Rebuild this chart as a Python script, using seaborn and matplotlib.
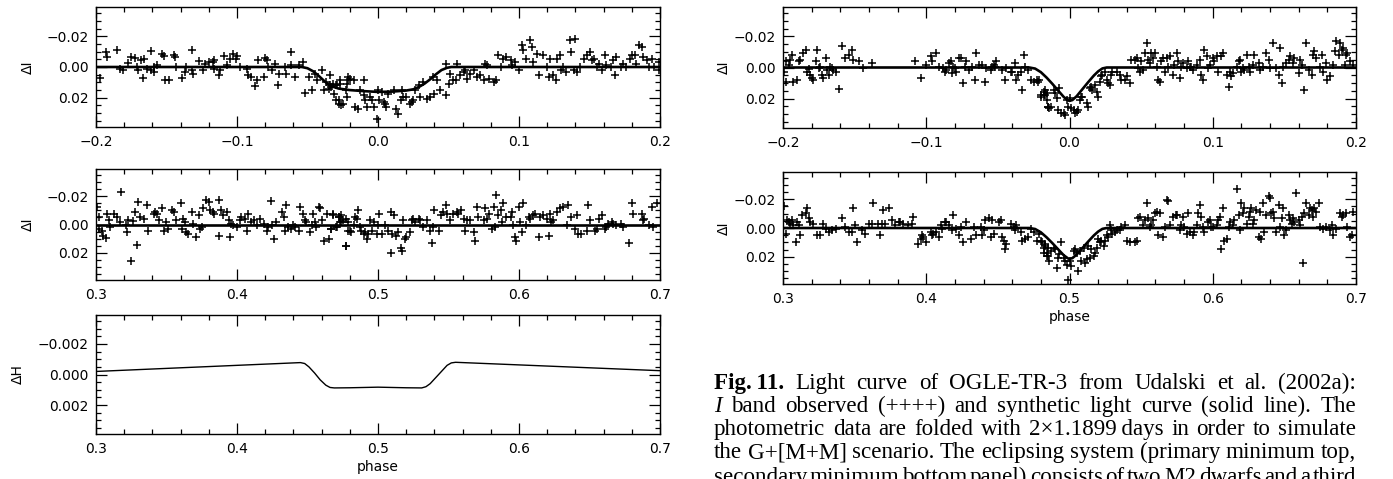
import numpy as np
import matplotlib
matplotlib.use("Agg")
import matplotlib.pyplot as plt
import seaborn as sns
from matplotlib.ticker import MultipleLocator

# ---------------- data ----------------
# Left column, top panel: phase -0.2..0.2, Delta I (observed)
lp1_phase = [
    -0.197,-0.193,-0.192,-0.185,-0.183,-0.181,-0.177,-0.175,-0.172,-0.171,
    -0.170,-0.168,-0.166,-0.167,-0.164,-0.161,-0.161,-0.159,-0.159,-0.157,
    -0.153,-0.152,-0.151,-0.148,-0.145,-0.144,-0.143,-0.139,-0.137,-0.136,
    -0.132,-0.132,-0.131,-0.127,-0.124,-0.123,-0.120,-0.117,-0.116,-0.116,
    -0.113,-0.112,-0.109,-0.107,-0.105,-0.103,-0.101,-0.100,-0.098,-0.093,
    -0.092,-0.090,-0.087,-0.086,-0.085,-0.081,-0.080,-0.079,-0.078,-0.075,
    -0.073,-0.071,-0.070,-0.066,-0.065,-0.062,-0.062,-0.059,-0.056,-0.053,
    -0.052,-0.049,-0.047,-0.045,-0.043,-0.040,-0.038,-0.037,-0.035,-0.034,
    -0.032,-0.030,-0.029,-0.028,-0.027,-0.026,-0.023,-0.022,-0.021,
    -0.034,-0.033,-0.031,-0.030,-0.028,-0.027,-0.025,-0.022,-0.021,-0.020,
    -0.017,-0.016,-0.014,-0.013,-0.010,-0.010,-0.009,-0.008,-0.006,-0.004,
    -0.003,-0.001,0.000,0.001,0.003,0.004,0.005,0.006,0.007,0.011,
    0.013,0.014,0.016,0.017,0.018,0.020,0.023,0.024,0.025,0.026,
    0.029,0.030,0.032,0.035,0.037,0.039,0.040,0.042,0.044,0.048,
    0.048,0.050,0.051,0.053,0.055,0.056,0.058,0.061,0.062,0.063,
    0.065,0.068,0.070,0.072,0.075,0.076,0.077,0.079,0.082,0.084,
    0.085,0.087,0.089,0.091,0.094,0.095,0.097,0.100,0.102,0.103,
    0.105,0.108,0.109,0.110,0.113,0.114,0.117,0.120,0.121,0.122,
    0.124,0.126,0.127,0.129,0.130,0.131,0.133,0.136,0.137,0.139,
    0.140,0.141,0.143,0.146,0.148,0.150,0.152,0.153,0.155,0.157,
    0.159,0.161,0.162,0.165,0.167,0.168,0.169,0.172,0.174,0.176,
    0.179,0.180,0.182,0.183,0.185,0.187,0.188,0.191,0.192,0.194,
    0.196,0.199,0.1995,
]
lp1_dI = [
    0.0070,-0.0098,-0.0065,-0.0109,0.0011,0.0022,-0.0026,-0.0065,-0.0061,0.0000,
    0.0022,-0.0043,-0.0054,0.0070,0.0011,-0.0104,0.0022,0.0000,0.0033,-0.0011,
    -0.0083,-0.0070,0.0087,0.0087,-0.0076,-0.0065,0.0000,0.0070,0.0033,0.0000,
    -0.0113,0.0022,0.0048,-0.0037,0.0022,-0.0022,-0.0033,-0.0033,-0.0043,0.0011,
    0.0054,0.0022,-0.0070,-0.0011,-0.0054,-0.0083,-0.0054,-0.0070,0.0000,0.0011,
    0.0054,0.0065,0.0126,0.0087,-0.0043,0.0065,-0.0061,-0.0048,0.0000,0.0022,
    -0.0022,0.0120,0.0043,0.0000,0.0048,-0.0098,-0.0011,0.0065,-0.0011,-0.0033,
    0.0170,0.0065,0.0152,0.0048,0.0087,0.0022,0.0148,0.0098,0.0141,0.0120,
    0.0109,0.0217,0.0120,0.0239,0.0109,0.0250,0.0152,0.0196,0.0087,
    0.0054,0.0130,0.0174,0.0120,0.0217,0.0087,0.0239,0.0109,0.0065,0.0076,
    0.0087,0.0261,0.0272,0.0152,0.0087,0.0185,0.0217,0.0261,0.0196,0.0217,
    0.0261,0.0337,0.0152,0.0217,0.0163,0.0228,0.0239,0.0261,0.0174,0.0152,
    0.0272,0.0304,0.0217,0.0152,0.0196,0.0196,0.0239,0.0228,0.0217,0.0152,
    0.0120,0.0196,0.0098,0.0207,0.0196,0.0065,0.0174,0.0087,0.0152,0.0185,
    -0.0022,0.0109,0.0043,0.0087,0.0087,-0.0022,0.0054,0.0033,0.0022,0.0076,
    0.0043,0.0022,0.0065,0.0054,0.0087,-0.0022,-0.0011,0.0076,0.0098,0.0087,
    -0.0076,0.0000,-0.0054,-0.0065,-0.0043,-0.0011,-0.0033,0.0022,-0.0141,-0.0109,
    -0.0054,-0.0174,-0.0130,-0.0033,-0.0087,0.0054,-0.0076,0.0000,0.0065,-0.0054,
    0.0054,0.0087,-0.0054,-0.0076,0.0022,0.0000,0.0033,-0.0174,-0.0098,0.0022,
    -0.0185,0.0033,0.0000,-0.0054,-0.0076,-0.0098,-0.0043,-0.0054,0.0000,-0.0022,
    0.0022,-0.0076,-0.0011,0.0000,-0.0043,0.0054,-0.0065,0.0000,-0.0022,0.0000,
    -0.0054,-0.0076,-0.0076,-0.0022,-0.0141,-0.0130,-0.0065,-0.0043,0.0000,-0.0054,
    0.0000,-0.0033,0.0022,
]
lp1_model_phase = [-0.2,-0.054,-0.050,-0.046,-0.042,-0.038,-0.034,-0.028,-0.020,-0.010,
                   0.0,0.010,0.020,0.025,0.029,0.033,0.037,0.041,0.045,0.049,0.052,0.2]
lp1_model_dI = [0,0,0.0008,0.0028,0.0058,0.0092,0.0122,0.0140,0.0150,0.0157,
                0.0162,0.0160,0.0153,0.0145,0.0130,0.0108,0.0080,0.0048,0.0020,0.0005,0,0]

# Left column, middle panel: phase 0.3..0.7
lp2_phase = [
    0.301,0.302,0.302,0.304,0.305,0.307,0.308,0.309,0.310,0.313,
    0.315,0.317,0.318,0.321,0.322,0.323,0.325,0.326,0.328,0.329,
    0.330,0.331,0.334,0.336,0.337,0.341,0.342,0.343,0.345,0.347,
    0.348,0.350,0.351,0.354,0.355,0.357,0.360,0.361,0.362,0.363,
    0.364,0.365,0.368,0.369,0.371,0.373,0.374,0.375,0.376,0.378,
    0.380,0.381,0.383,0.384,0.387,0.387,0.389,0.390,0.393,0.394,
    0.395,0.396,0.397,0.400,0.402,0.403,0.406,0.407,0.408,0.410,
    0.412,0.414,0.416,0.419,0.421,0.422,0.424,0.425,0.426,0.428,
    0.432,0.433,0.434,0.435,0.436,0.438,0.440,0.441,0.444,0.445,
    0.447,0.448,0.449,0.452,0.453,0.454,0.455,0.456,0.458,0.459,
    0.460,0.462,0.464,0.465,0.467,0.468,0.471,0.472,0.474,0.477,
    0.479,
    0.467,0.468,0.470,0.472,0.473,0.474,0.475,0.477,0.477,0.479,
    0.480,0.481,0.483,0.484,0.485,0.486,0.487,0.488,0.490,0.491,
    0.492,0.493,0.494,0.496,0.497,0.499,0.500,0.501,0.503,0.505,
    0.507,0.509,0.509,0.510,0.511,0.513,0.514,0.516,0.517,0.518,
    0.519,0.520,0.523,0.524,0.525,0.526,0.529,0.530,0.532,0.535,
    0.537,0.538,0.539,0.540,0.543,0.545,0.546,0.548,0.549,0.551,
    0.553,0.556,0.557,0.559,0.561,0.562,0.563,0.565,0.568,0.569,
    0.570,0.571,0.575,0.576,0.577,0.579,0.581,0.582,0.583,0.584,
    0.585,0.587,0.588,0.589,0.591,0.594,0.595,0.596,0.597,0.598,
    0.600,0.601,0.602,0.603,0.605,0.607,0.608,0.610,0.611,0.614,
    0.615,0.617,0.620,0.621,0.622,0.623,0.624,0.627,0.629,0.631,
    0.634,0.635,0.637,0.640,0.641,0.642,0.644,0.648,0.649,0.650,
    0.654,0.655,0.657,0.659,0.661,0.662,0.663,0.666,0.667,0.669,
    0.672,0.674,0.678,0.680,0.681,0.687,0.688,0.689,0.692,0.694,
    0.695,0.698,
]
lp2_dI = [
    -0.0120,-0.0053,0.0031,0.0043,0.0079,0.0096,-0.0072,-0.0029,0.0019,-0.0077,
    -0.0053,-0.0017,-0.0225,0.0007,0.0055,-0.0029,0.0259,-0.0022,-0.0089,0.0144,
    -0.0160,-0.0053,-0.0041,-0.0137,0.0043,-0.0077,-0.0089,-0.0077,-0.0029,-0.0113,
    0.0043,-0.0017,0.0031,-0.0101,-0.0089,-0.0029,-0.0149,0.0031,-0.0041,-0.0017,
    0.0055,0.0067,-0.0089,-0.0005,0.0091,-0.0065,0.0031,0.0019,-0.0113,-0.0172,
    -0.0160,-0.0101,-0.0089,-0.0077,-0.0172,0.0079,-0.0101,-0.0065,-0.0089,-0.0029,
    0.0091,-0.0005,0.0007,0.0019,-0.0029,-0.0053,-0.0041,0.0043,-0.0077,-0.0017,
    -0.0029,0.0007,-0.0041,-0.0005,0.0043,0.0019,-0.0168,0.0007,0.0103,-0.0017,
    -0.0089,-0.0053,0.0043,-0.0137,0.0019,0.0031,0.0007,0.0019,0.0043,-0.0125,
    -0.0077,-0.0029,-0.0017,0.0055,0.0007,-0.0077,-0.0017,0.0019,-0.0125,-0.0113,
    -0.0029,0.0115,-0.0077,0.0103,0.0031,-0.0077,0.0019,-0.0053,-0.0017,0.0151,
    0.0043,
    0.0031,-0.0065,0.0019,-0.0053,-0.0017,-0.0065,-0.0029,-0.0041,0.0151,-0.0017,
    0.0043,0.0055,0.0007,-0.0053,-0.0041,-0.0101,0.0019,0.0043,0.0067,0.0055,
    0.0103,0.0067,-0.0029,0.0043,-0.0017,0.0067,0.0007,-0.0077,0.0067,0.0007,
    0.0043,-0.0089,0.0199,0.0067,-0.0065,0.0079,0.0055,0.0163,0.0187,-0.0029,
    0.0103,0.0091,0.0055,-0.0029,-0.0041,-0.0017,-0.0041,-0.0029,0.0019,-0.0029,
    0.0043,0.0127,0.0019,-0.0101,0.0043,-0.0065,-0.0089,-0.0137,-0.0077,-0.0029,
    -0.0077,-0.0089,-0.0077,-0.0101,-0.0041,0.0043,-0.0029,-0.0029,0.0055,0.0115,
    -0.0125,-0.0053,-0.0029,-0.0113,-0.0041,-0.0077,0.0031,-0.0125,0.0019,-0.0208,
    -0.0065,-0.0101,-0.0017,-0.0149,-0.0053,-0.0053,-0.0089,0.0007,0.0091,0.0115,
    -0.0125,-0.0017,0.0055,-0.0149,0.0007,-0.0053,-0.0041,-0.0065,-0.0077,0.0091,
    -0.0053,-0.0065,-0.0041,0.0079,-0.0077,-0.0017,-0.0029,-0.0089,-0.0113,-0.0125,
    0.0007,-0.0137,-0.0053,0.0031,-0.0065,0.0067,0.0067,0.0043,-0.0137,-0.0029,
    0.0043,0.0031,-0.0041,-0.0065,0.0031,0.0019,-0.0005,-0.0017,-0.0005,0.0007,
    -0.0005,0.0019,0.0127,-0.0149,-0.0077,-0.0077,-0.0029,-0.0041,0.0007,-0.0125,
    0.0019,-0.0149,
]
lp2_model_phase = [0.3, 0.7]
lp2_model_dI = [0.0, 0.0]

# Left column, bottom panel: synthetic Delta H curve
lp3_phase = [0.3,0.445,0.448,0.451,0.455,0.459,0.463,0.466,0.469,0.48,0.49,0.5,
             0.51,0.52,0.531,0.534,0.537,0.541,0.545,0.549,0.552,0.555,0.7]
lp3_dH = [-0.00020,-0.00078,-0.00072,-0.00050,-0.00010,0.00035,0.00070,0.00085,0.00088,
          0.00087,0.00085,0.00083,0.00085,0.00087,0.00088,0.00080,0.00060,0.00020,
          -0.00020,-0.00060,-0.00076,-0.00080,-0.00025]

# Right column, top panel
rp1_phase = [
    -0.1995,-0.198,-0.198,-0.196,-0.195,-0.194,-0.193,-0.190,-0.189,-0.188,
    -0.186,-0.184,-0.183,-0.182,-0.181,-0.180,-0.179,-0.177,-0.176,-0.175,
    -0.174,-0.173,-0.172,-0.170,-0.169,-0.168,-0.167,-0.166,-0.165,-0.163,
    -0.161,-0.159,-0.157,-0.154,-0.152,-0.151,-0.147,-0.144,-0.138,-0.108,
    -0.104,-0.100,-0.097,-0.096,-0.093,-0.091,-0.088,-0.087,-0.086,-0.084,
    -0.083,-0.082,-0.081,-0.080,-0.079,-0.077,-0.076,-0.074,-0.073,-0.072,
    -0.070,-0.068,-0.066,-0.065,-0.063,-0.061,-0.059,-0.058,-0.055,-0.054,
    -0.053,-0.052,-0.051,-0.047,-0.045,-0.044,-0.041,-0.040,-0.038,-0.037,
    -0.036,-0.034,-0.033,-0.032,-0.031,-0.029,-0.027,-0.025,-0.023,-0.022,
    -0.020,-0.018,-0.017,-0.016,-0.015,
    -0.021,-0.020,-0.018,-0.017,-0.016,-0.015,-0.014,-0.013,-0.011,-0.010,
    -0.009,-0.008,-0.007,-0.006,-0.004,-0.003,-0.002,-0.001,0.000,0.001,
    0.003,0.004,0.005,0.006,0.007,0.008,0.009,0.012,0.013,0.014,
    0.015,0.016,0.018,0.019,0.020,0.021,0.022,0.023,0.025,0.026,
    0.027,0.028,0.029,0.030,0.033,0.035,0.036,0.039,0.040,0.042,
    0.043,0.046,0.047,0.048,0.049,0.050,0.051,0.053,0.054,0.055,
    0.056,0.057,0.058,0.060,0.061,0.062,0.063,0.064,0.065,0.067,
    0.068,0.069,0.070,0.072,0.073,0.075,0.076,0.077,0.078,0.079,
    0.082,0.083,0.084,0.085,0.086,0.089,0.091,0.092,0.093,0.094,
    0.096,0.097,0.098,0.100,0.101,0.103,0.104,0.106,0.107,0.110,
    0.111,0.112,0.113,0.114,0.117,0.118,0.119,0.120,0.121,0.122,
    0.124,0.125,0.126,0.128,0.129,0.132,0.133,0.135,0.137,0.139,
    0.140,0.142,0.144,0.146,0.147,0.148,0.149,0.151,0.153,0.154,
    0.156,0.157,0.160,0.161,0.162,0.164,0.165,0.167,0.169,0.170,
    0.171,0.172,0.175,0.176,0.177,0.179,0.180,0.182,0.184,0.185,
    0.186,0.188,0.189,0.190,0.191,0.192,0.193,0.194,0.196,0.198,
]
rp1_dI = [
    0.0026,0.0091,-0.0039,-0.0017,-0.0050,-0.0082,0.0091,0.0080,-0.0039,-0.0050,
    -0.0093,-0.0115,0.0026,0.0011,0.0048,0.0069,0.0080,-0.0039,-0.0115,0.0004,
    -0.0006,0.0048,0.0069,-0.0061,0.0015,0.0048,-0.0006,0.0004,0.0015,0.0026,
    0.0141,-0.0136,-0.0061,-0.0082,-0.0115,-0.0050,-0.0039,0.0004,-0.0028,-0.0039,
    0.0069,-0.0017,-0.0071,-0.0039,-0.0093,-0.0006,0.0004,0.0026,0.0015,-0.0028,
    -0.0039,0.0037,-0.0006,0.0004,0.0026,-0.0061,-0.0061,0.0102,-0.0006,-0.0039,
    0.0015,-0.0006,0.0080,-0.0093,-0.0017,-0.0017,0.0091,0.0004,0.0015,-0.0006,
    -0.0017,-0.0006,-0.0039,0.0015,0.0080,0.0004,0.0026,0.0026,-0.0028,0.0080,
    0.0048,0.0026,0.0145,-0.0082,-0.0006,0.0015,0.0080,0.0091,0.0080,0.0091,
    0.0188,0.0177,0.0145,0.0166,0.0253,
    0.0080,0.0177,0.0156,0.0177,0.0210,0.0253,0.0264,0.0253,0.0145,0.0166,
    0.0199,0.0275,0.0134,0.0296,0.0296,0.0307,0.0210,0.0253,0.0199,0.0264,
    0.0275,0.0296,0.0285,0.0275,0.0210,0.0188,0.0188,0.0231,0.0253,0.0134,
    0.0123,0.0145,0.0112,0.0156,0.0188,0.0091,0.0058,0.0048,0.0026,0.0080,
    0.0102,0.0112,0.0048,0.0026,0.0026,0.0048,0.0080,0.0080,0.0058,0.0102,
    -0.0050,-0.0050,-0.0061,0.0004,0.0026,-0.0039,0.0015,-0.0093,-0.0158,-0.0050,
    -0.0028,-0.0093,-0.0061,-0.0093,-0.0006,0.0080,0.0091,-0.0039,-0.0061,0.0026,
    -0.0061,-0.0006,-0.0071,0.0048,-0.0017,-0.0093,-0.0039,0.0069,-0.0006,-0.0028,
    0.0004,-0.0039,-0.0006,-0.0006,0.0015,-0.0017,-0.0050,0.0048,0.0080,-0.0115,
    -0.0071,0.0004,-0.0017,-0.0061,-0.0039,-0.0071,0.0026,-0.0071,-0.0093,0.0048,
    0.0123,0.0026,0.0058,0.0037,-0.0006,-0.0039,-0.0050,0.0026,0.0004,0.0015,
    -0.0082,-0.0006,0.0026,-0.0017,-0.0082,-0.0028,0.0015,-0.0006,-0.0093,-0.0050,
    0.0004,-0.0158,0.0004,0.0048,-0.0125,0.0102,-0.0006,-0.0028,-0.0050,-0.0071,
    -0.0028,-0.0061,0.0037,-0.0050,-0.0017,0.0145,-0.0158,0.0015,0.0048,-0.0082,
    -0.0104,-0.0061,-0.0006,-0.0082,0.0026,-0.0028,0.0080,0.0058,-0.0017,-0.0104,
    -0.0169,-0.0082,-0.0158,-0.0115,-0.0125,-0.0017,-0.0082,-0.0093,-0.0039,-0.0017,
]
rp1_model_phase = [-0.2,-0.028,-0.024,-0.020,-0.016,-0.012,-0.008,-0.004,-0.001,0.0,
                   0.002,0.005,0.009,0.013,0.017,0.020,0.023,0.026,0.2]
rp1_model_dI = [0,0,0.0007,0.0030,0.0065,0.0105,0.0148,0.0190,0.0212,0.0215,
                0.0210,0.0185,0.0140,0.0095,0.0052,0.0025,0.0006,0,0]

# Right column, bottom panel
rp2_phase = [
    0.301,0.302,0.303,0.304,0.305,0.306,0.307,0.309,0.310,0.311,
    0.312,0.313,0.316,0.317,0.318,0.319,0.321,0.324,0.326,0.328,
    0.330,0.332,0.334,0.337,0.341,0.343,0.346,0.348,0.349,0.350,
    0.352,0.355,0.357,0.360,0.362,0.363,0.366,0.368,0.369,0.370,
    0.371,0.374,0.376,0.378,0.381,0.382,0.384,0.387,0.390,0.391,
    0.394,0.396,0.397,0.398,0.400,0.403,0.404,0.405,0.407,0.409,
    0.410,0.411,0.413,0.414,0.416,0.418,0.419,0.421,0.423,0.424,
    0.426,0.428,0.431,0.433,0.435,0.438,0.439,0.440,0.441,0.444,
    0.445,0.446,0.447,0.451,0.452,0.453,0.454,0.455,0.456,0.459,
    0.461,0.462,0.463,0.466,0.467,0.469,0.471,0.473,0.475,0.477,
    0.481,0.482,0.483,0.484,0.485,
    0.479,0.480,0.482,0.483,0.484,0.485,0.486,0.487,0.489,0.490,
    0.491,0.492,0.493,0.494,0.496,0.497,0.498,0.499,0.500,0.501,
    0.503,0.504,0.505,0.506,0.507,0.508,0.510,0.511,0.512,0.513,
    0.514,0.515,0.517,0.518,0.519,0.520,0.521,0.522,0.524,0.525,
    0.526,0.527,0.528,0.529,0.530,0.532,0.533,0.535,0.536,0.539,
    0.540,0.542,0.546,0.547,0.548,0.549,0.551,0.553,0.554,0.555,
    0.556,0.557,0.558,0.560,0.561,0.562,0.563,0.565,0.567,0.568,
    0.569,0.570,0.572,0.574,0.575,0.577,0.578,0.579,0.580,0.582,
    0.583,0.584,0.586,0.587,0.589,0.590,0.591,0.592,0.593,0.594,
    0.597,0.598,0.599,0.600,0.603,0.604,0.605,0.606,0.607,0.608,
    0.610,0.611,0.612,0.614,0.615,0.617,0.618,0.619,0.620,0.621,
    0.622,0.624,0.625,0.626,0.627,0.628,0.629,0.630,0.632,0.633,
    0.634,0.635,0.636,0.637,0.639,0.640,0.641,0.642,0.643,0.644,
    0.646,0.647,0.648,0.649,0.650,0.651,0.653,0.654,0.655,0.656,
    0.657,0.658,0.660,0.661,0.662,0.663,0.664,0.665,0.667,0.668,
    0.669,0.670,0.671,0.672,0.674,0.675,0.677,0.679,0.682,0.683,
    0.684,0.686,0.689,0.690,0.691,0.693,0.694,0.696,0.697,0.698,
]
rp2_dI = [
    -0.0150,0.0040,-0.0055,-0.0043,-0.0031,-0.0055,-0.0019,0.0100,-0.0043,-0.0019,
    0.0052,-0.0090,-0.0102,-0.0138,-0.0067,-0.0043,-0.0031,0.0052,0.0052,-0.0031,
    0.0005,0.0029,0.0017,0.0005,-0.0067,-0.0007,0.0029,0.0029,-0.0138,-0.0019,
    0.0100,0.0017,0.0040,-0.0031,-0.0031,-0.0174,-0.0031,0.0052,-0.0031,-0.0126,
    -0.0031,-0.0138,-0.0055,-0.0019,-0.0043,-0.0043,-0.0031,-0.0019,-0.0031,-0.0079,
    0.0112,0.0076,0.0052,0.0064,0.0100,0.0029,0.0052,0.0040,0.0029,0.0064,
    -0.0019,0.0005,-0.0043,-0.0043,-0.0019,0.0017,-0.0090,0.0005,0.0052,-0.0007,
    0.0100,-0.0043,0.0076,-0.0007,0.0052,-0.0007,0.0052,0.0017,-0.0055,-0.0067,
    0.0064,-0.0055,0.0040,-0.0043,-0.0055,0.0064,0.0088,0.0148,0.0112,-0.0031,
    -0.0007,0.0017,-0.0019,0.0029,0.0088,0.0076,0.0064,0.0005,0.0029,0.0088,
    0.0100,0.0136,0.0124,0.0171,0.0195,
    0.0040,0.0088,0.0171,0.0112,0.0195,0.0136,0.0231,0.0160,0.0136,0.0148,
    0.0279,0.0207,0.0183,0.0100,0.0207,0.0231,0.0255,0.0362,0.0231,0.0267,
    0.0160,0.0148,0.0171,0.0302,0.0160,0.0231,0.0136,0.0243,0.0219,0.0124,
    0.0207,0.0148,0.0195,0.0171,0.0136,0.0076,0.0100,0.0088,0.0124,0.0088,
    0.0052,0.0064,-0.0019,0.0017,0.0040,0.0029,0.0017,0.0017,-0.0007,-0.0019,
    0.0088,0.0100,0.0100,0.0088,-0.0067,-0.0079,-0.0019,-0.0055,-0.0174,-0.0067,
    -0.0007,-0.0019,-0.0055,-0.0102,-0.0114,0.0052,-0.0102,0.0064,-0.0007,-0.0198,
    -0.0186,-0.0019,-0.0079,-0.0090,-0.0090,0.0017,-0.0019,-0.0079,-0.0007,0.0040,
    -0.0102,0.0029,0.0052,0.0029,-0.0019,-0.0102,-0.0162,-0.0079,-0.0007,0.0029,
    -0.0043,-0.0055,-0.0007,-0.0007,-0.0019,-0.0055,-0.0079,0.0148,-0.0138,0.0088,
    0.0076,-0.0007,-0.0043,-0.0019,-0.0055,-0.0269,-0.0090,0.0017,-0.0174,-0.0102,
    -0.0138,-0.0031,-0.0079,-0.0114,-0.0138,-0.0031,-0.0055,-0.0126,0.0064,-0.0114,
    0.0076,-0.0174,0.0029,-0.0090,-0.0221,-0.0210,-0.0102,-0.0114,-0.0067,0.0029,
    -0.0162,-0.0007,-0.0067,-0.0138,0.0052,0.0017,-0.0090,-0.0055,-0.0031,-0.0067,
    -0.0043,-0.0245,-0.0055,-0.0019,-0.0079,0.0243,-0.0102,-0.0174,-0.0090,-0.0138,
    -0.0126,-0.0079,-0.0138,-0.0114,-0.0174,-0.0007,0.0005,-0.0007,0.0017,-0.0019,
    0.0052,0.0005,-0.0102,-0.0079,-0.0090,-0.0102,-0.0007,0.0064,0.0052,-0.0114,
]
rp2_model_phase = [0.3,0.472,0.476,0.480,0.484,0.488,0.492,0.496,0.499,0.500,
                   0.502,0.505,0.509,0.513,0.517,0.520,0.523,0.526,0.7]
rp2_model_dI = [0,0,0.0007,0.0030,0.0065,0.0105,0.0148,0.0190,0.0212,0.0215,
                0.0210,0.0185,0.0140,0.0095,0.0052,0.0025,0.0006,0,0]

# tick labels
ticks_a = [-0.2, -0.1, 0.0, 0.1, 0.2]
ticklabels_a = ["\u22120.2", "\u22120.1", "0.0", "0.1", "0.2"]
ticks_b = [0.3, 0.4, 0.5, 0.6, 0.7]
ticklabels_b = ["0.3", "0.4", "0.5", "0.6", "0.7"]
yticks_I = [-0.02, 0.0, 0.02]
yticklabels_I = ["\u22120.02", "0.00", "0.02"]
yticks_H = [-0.002, 0.0, 0.002]
yticklabels_H = ["\u22120.002", "0.000", "0.002"]

caption_lines = [
    [("Fig.\u200911.", "bold", "normal"), ("Light", None, None), ("curve", None, None), ("of", None, None),
     ("OGLE-TR-3", None, None), ("from", None, None), ("Udalski", None, None), ("et", None, None),
     ("al.", None, None), ("(2002a):", None, None)],
    [("I", "normal", "italic"), ("band", None, None), ("observed", None, None), ("(++++)", None, None),
     ("and", None, None), ("synthetic", None, None), ("light", None, None), ("curve", None, None),
     ("(solid", None, None), ("line).", None, None), ("The", None, None)],
    "photometric|data|are|folded|with|2\u00d71.1899\u2009days|in|order|to|simulate",
    "the|G+[M+M]|scenario.|The|eclipsing|system|(primary|minimum|top,",
    "secondary|minimum|bottom|panel)|consists|of|two|M2|dwarfs|and|a|third",
]

# ---------------- style ----------------
sns.set_theme(style="ticks")
plt.rcParams["font.family"] = ["DejaVu Sans"]
plt.rcParams.update({
    "axes.edgecolor": "black", "axes.linewidth": 1.0,
    "xtick.color": "black", "ytick.color": "black",
    "text.color": "black", "axes.labelcolor": "black",
    "axes.facecolor": "white", "figure.facecolor": "white",
})

W, H = 1393, 479
fig = plt.figure(figsize=(W / 100, H / 100), dpi=100)


def add_ax(l, t, r, b):
    return fig.add_axes([l / W, 1 - b / H, (r - l) / W, (b - t) / H])


def style_ax(ax, xt, xtl, yt, ytl, ylim, yminor, ylabel, ylab_x, xlabel=None):
    ax.set_xlim(xt[0], xt[-1])
    ax.set_ylim(ylim, -ylim)
    ax.set_xticks(xt, labels=xtl)
    ax.set_yticks(yt, labels=ytl)
    ax.xaxis.set_minor_locator(MultipleLocator(0.02))
    ax.yaxis.set_minor_locator(MultipleLocator(yminor))
    ax.tick_params(which="both", direction="in", top=True, right=True,
                   width=0.9, labelsize=10)
    ax.tick_params(which="major", length=8, pad=5.5)
    ax.tick_params(which="minor", length=3.5)
    ax.set_ylabel(ylabel, fontsize=10)
    ax.yaxis.set_label_coords(ylab_x, 0.5)
    ax.set_xlabel(xlabel if xlabel else "", fontsize=10, labelpad=3)
    for s in ax.spines.values():
        s.set_visible(True)
        s.set_linewidth(1.0)
        s.set_color("black")


def obs(ax, x, y):
    sns.scatterplot(x=x, y=y, ax=ax, marker="+", s=38, color="black",
                    linewidth=1.1, legend=False, zorder=3)


def model(ax, x, y, lw=1.9):
    sns.lineplot(x=x, y=y, ax=ax, color="black", linewidth=lw,
                 estimator=None, sort=False, legend=False, zorder=4)


ax1 = add_ax(96, 7, 660, 127)
obs(ax1, lp1_phase, lp1_dI)
model(ax1, lp1_model_phase, lp1_model_dI)
style_ax(ax1, ticks_a, ticklabels_a, yticks_I, yticklabels_I, 0.039, 0.005, "\u0394I", -0.108)

ax2 = add_ax(96, 169, 660, 280)
obs(ax2, lp2_phase, lp2_dI)
model(ax2, lp2_model_phase, lp2_model_dI)
style_ax(ax2, ticks_b, ticklabels_b, yticks_I, yticklabels_I, 0.039, 0.005, "\u0394I", -0.108)

ax3 = add_ax(96, 315, 660, 434)
model(ax3, lp3_phase, lp3_dH, lw=1.0)
style_ax(ax3, ticks_b, ticklabels_b, yticks_H, yticklabels_H, 0.0039, 0.0005, "\u0394H", -0.126,
         xlabel="phase")

ax4 = add_ax(783, 7, 1356, 128)
obs(ax4, rp1_phase, rp1_dI)
model(ax4, rp1_model_phase, rp1_model_dI)
style_ax(ax4, ticks_a, ticklabels_a, yticks_I, yticklabels_I, 0.039, 0.005, "\u0394I", -0.091)

ax5 = add_ax(783, 172, 1356, 284)
obs(ax5, rp2_phase, rp2_dI)
model(ax5, rp2_model_phase, rp2_model_dI)
style_ax(ax5, ticks_b, ticklabels_b, yticks_I, yticklabels_I, 0.039, 0.005, "\u0394I", -0.091,
         xlabel="phase")

# ---------------- caption (justified) ----------------
fig.canvas.draw()
renderer = fig.canvas.get_renderer()
cap_x0, cap_x1 = 714, 1356
cap_base = [389, 412, 435, 458, 483]
serif = ["Liberation Serif", "DejaVu Serif"]
space_em = 0.22

tok_lines = []
for line in caption_lines:
    if isinstance(line, str):
        tok_lines.append([(w, None, None) for w in line.split("|")])
    else:
        tok_lines.append(line)


def measure(size):
    res = []
    for toks in tok_lines:
        ws = []
        for word, weight, fstyle in toks:
            t = fig.text(0, 0, word, fontsize=size, family=serif,
                         weight=weight or "normal", style=fstyle or "normal")
            ws.append(t.get_window_extent(renderer).width)
            t.remove()
        res.append(ws)
    return res


# choose the size so that the tightest line has normal word spacing
ref = 14.0
ws_ref = measure(ref)
sizes = []
for ws in ws_ref:
    per_pt = sum(ws) / ref + (len(ws) - 1) * space_em * 100 / 72
    sizes.append((cap_x1 - cap_x0) / per_pt)
cap_size = min(sizes[:4])

for toks, yb in zip(tok_lines, cap_base):
    objs = []
    for word, weight, fstyle in toks:
        t = fig.text(0, 1 - yb / H, word, fontsize=cap_size, family=serif,
                     weight=weight or "normal", style=fstyle or "normal",
                     ha="left", va="baseline")
        objs.append(t)
    widths = [o.get_window_extent(renderer).width for o in objs]
    gap = (cap_x1 - cap_x0 - sum(widths)) / max(len(objs) - 1, 1)
    x = cap_x0
    for o, w in zip(objs, widths):
        o.set_x(x / W)
        x += w + gap

fig.savefig("out.png", dpi=100)
